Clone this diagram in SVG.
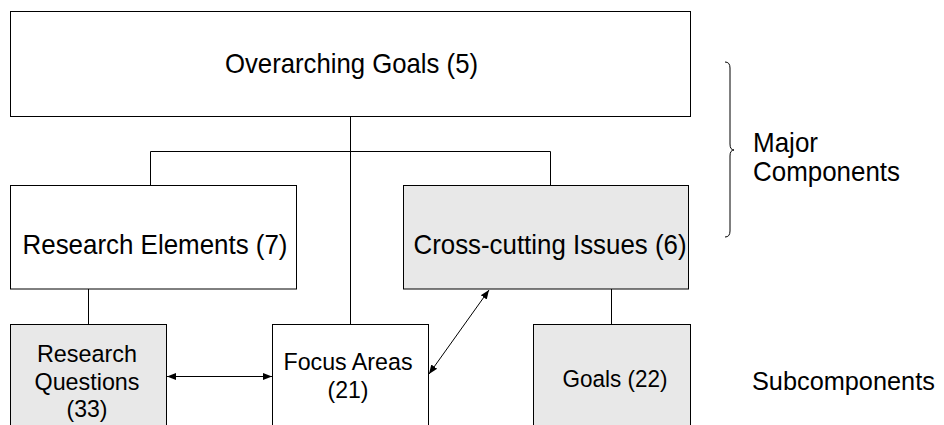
<svg xmlns="http://www.w3.org/2000/svg" width="944" height="425" viewBox="0 0 944 425">
<style>
  .box { stroke: #000; stroke-width: 1; }
  .white { fill: #fff; }
  .gray { fill: #e8e8e8; }
  .t { font-family: "Liberation Sans", Arial, sans-serif; fill: #000; text-anchor: middle; }
  .big { font-size: 27.5px; }
  .small { font-size: 24.5px; }
  .lbl { font-family: "Liberation Sans", Arial, sans-serif; fill: #000; font-size: 27.5px; }
  .conn { stroke: #000; stroke-width: 1; fill: none; }
</style>
<defs>
  <marker id="ah" viewBox="0 0 10 10" refX="10" refY="5" markerWidth="9" markerHeight="9" markerUnits="userSpaceOnUse" orient="auto-start-reverse">
    <path d="M0,1 L10,5 L0,9 Z" fill="#000"/>
  </marker>
</defs>
<rect width="944" height="425" fill="#fff"/>
<g id="connectors">
  <line class="conn" x1="350.5" y1="116.5" x2="350.5" y2="324"/>
  <polyline class="conn" points="150.5,185 150.5,151.5 550.5,151.5 550.5,185"/>
  <line class="conn" x1="88.5" y1="289" x2="88.5" y2="324"/>
  <line class="conn" x1="611.5" y1="289" x2="611.5" y2="324"/>
  <line class="conn" x1="167" y1="376.5" x2="272" y2="376.5" marker-start="url(#ah)" marker-end="url(#ah)"/>
  <line class="conn" x1="489" y1="290" x2="429" y2="374" marker-start="url(#ah)" marker-end="url(#ah)"/>
</g>
<g id="overarching-goals">
  <rect class="box white" x="10.5" y="11.5" width="680" height="105"/>
  <text class="t big" x="351.5" y="73" textLength="253" lengthAdjust="spacingAndGlyphs">Overarching Goals (5)</text>
</g>
<g id="research-elements">
  <rect class="box white" x="10.5" y="185.5" width="286" height="103.5"/>
  <text class="t big" x="155" y="254" textLength="265" lengthAdjust="spacingAndGlyphs">Research Elements (7)</text>
</g>
<g id="cross-cutting-issues">
  <rect class="box gray" x="403.5" y="185.5" width="285" height="103.5"/>
  <text class="t big" x="550" y="254" textLength="273" lengthAdjust="spacingAndGlyphs">Cross-cutting Issues (6)</text>
</g>
<g id="research-questions">
  <rect class="box gray" x="10.5" y="324.5" width="156" height="110"/>
  <text class="t small" x="87" y="362" textLength="100" lengthAdjust="spacingAndGlyphs">Research</text>
  <text class="t small" x="87" y="390" textLength="105" lengthAdjust="spacingAndGlyphs">Questions</text>
  <text class="t small" x="87" y="417" textLength="41" lengthAdjust="spacingAndGlyphs">(33)</text>
</g>
<g id="focus-areas">
  <rect class="box white" x="272.5" y="324.5" width="156" height="110"/>
  <text class="t small" x="348" y="370" textLength="129" lengthAdjust="spacingAndGlyphs">Focus Areas</text>
  <text class="t small" x="348" y="398" textLength="41" lengthAdjust="spacingAndGlyphs">(21)</text>
</g>
<g id="goals">
  <rect class="box gray" x="533.5" y="324.5" width="157" height="110"/>
  <text class="t small" x="615" y="387" textLength="105" lengthAdjust="spacingAndGlyphs">Goals (22)</text>
</g>
<g id="major-components">
  <path class="conn" d="M725,62 Q730,62 730,68 L730,144 Q730,150 734,150 Q730,150 730,156 L730,231 Q730,237 725,237"/>
  <text class="lbl" x="753" y="152" textLength="65" lengthAdjust="spacingAndGlyphs">Major</text>
  <text class="lbl" x="753" y="181" textLength="147" lengthAdjust="spacingAndGlyphs">Components</text>
</g>
<g id="subcomponents">
  <text x="752" y="390" font-family="'Liberation Sans', Arial, sans-serif" font-size="25.3" fill="#000">Subcomponents</text>
</g>
</svg>
